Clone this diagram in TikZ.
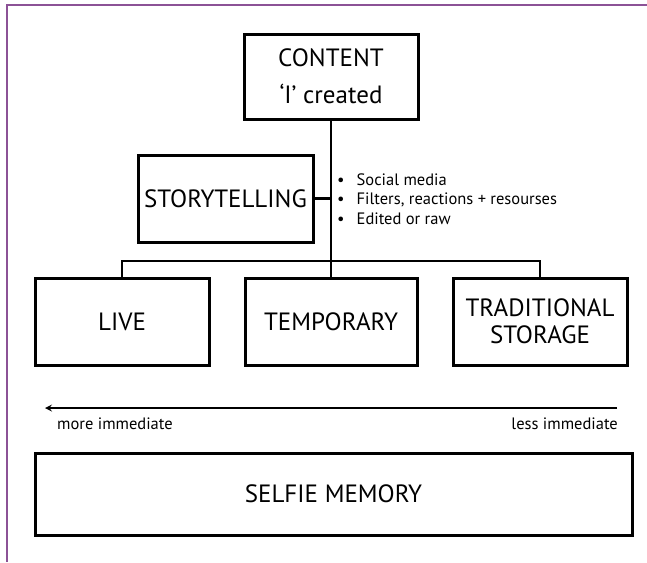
\documentclass[tikz,border=0pt]{standalone}
\usepackage{fontspec}
\setmainfont{PT Sans}
\definecolor{framepurple}{RGB}{140,82,150}
\tikzset{
  box/.style={draw, line width=3pt, align=center, inner sep=0pt,
    font=\fontsize{25}{27}\selectfont},
  link/.style={line width=2.5pt},
  note/.style={font=\fontsize{16.5}{19.5}\selectfont, inner sep=0pt}
}
\begin{document}
\begin{tikzpicture}[x=1pt,y=-1pt]
  \useasboundingbox (0,0) rectangle (647,562);
  % frame
  \draw[framepurple, line width=1.6pt] (647,5) -- (7,5) -- (7,562);

  % boxes
  \node[box, minimum width=174pt, minimum height=85pt,
    font=\fontsize{25}{37}\selectfont] (content) at (331,76.5) {CONTENT\\‘I’ created};
  \node[box, minimum width=175pt, minimum height=87pt] (story) at (225.5,198.5) {STORYTELLING};
  \node[box, minimum width=174pt, minimum height=87pt] (live) at (122,321.5) {LIVE};
  \node[box, minimum width=172pt, minimum height=87pt] (temp) at (331,321.5) {TEMPORARY};
  \node[box, minimum width=174pt, minimum height=87pt] (trad) at (540,321.5) {TRADITIONAL\\STORAGE};
  \node[box, minimum width=597pt, minimum height=82pt] (selfie) at (333.5,494) {SELFIE MEMORY};

  % tree
  \coordinate (bus) at (331,261);
  \draw[link] (content.south) -- (temp.north);
  \draw[link] (live.north) |- (bus) -| (trad.north);
  \draw[link] (story.east) -- (story.east -| content.south);

  \node[note, anchor=west, align=left] (media) at (337,199)
    {\textbullet\hspace{12pt}Social media\\
     \textbullet\hspace{12pt}Filters, reactions + resourses\\
     \textbullet\hspace{12pt}Edited or raw};

  % scale of immediacy
  \coordinate (fast) at (45,408);
  \coordinate (slow) at (617,408);
  \draw[->,>=stealth, line width=2pt] (slow) -- (fast);
  \node[note, anchor=west] (more) at (57,424) {more immediate};
  \node[note, anchor=east] (less) at (618,424) {less immediate};
\end{tikzpicture}
\end{document}
